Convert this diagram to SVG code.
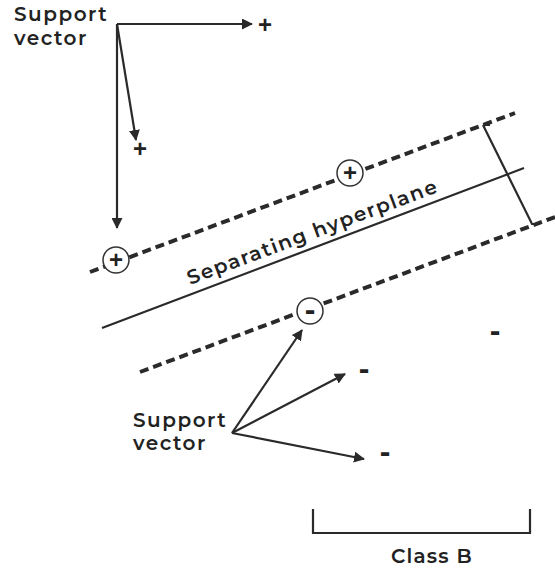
<svg xmlns="http://www.w3.org/2000/svg" width="555" height="568" viewBox="0 0 555 568">
<style>
.lbl{font-family:"Montserrat","Open Sans","Liberation Sans",sans-serif;font-size:20px;fill:#222;font-weight:600;letter-spacing:1.5px}
.sign{font-family:"Liberation Sans",sans-serif;font-size:24px;font-weight:bold;fill:#222;text-anchor:middle}
.minus{font-family:"Liberation Sans",sans-serif;font-size:32px;font-weight:bold;fill:#222;text-anchor:middle}
.ln{stroke:#2a2a2a;stroke-width:2.2;fill:none}
.dash{stroke:#2a2a2a;stroke-width:4;stroke-dasharray:9,5;fill:none}
.circ{stroke:#333;stroke-width:1.5;fill:#fff}
</style>
<defs>
<marker id="ah" markerWidth="11" markerHeight="11" refX="10" refY="5.5" orient="auto" markerUnits="userSpaceOnUse">
<path d="M0,0 L11,5.5 L0,11 Z" fill="#2a2a2a"/>
</marker>
</defs>
<rect width="555" height="568" fill="#fff"/>
<g id="margins">
<line class="dash" x1="90" y1="272" x2="515" y2="113"/>
<line class="ln" x1="102" y1="328" x2="524" y2="168"/>
<line class="dash" x1="140" y1="372" x2="555" y2="217"/>
<path class="ln" d="M483,125 L490,125 M483,125 L532,224 L540,224"/>
</g>
<g id="hyperplane-label">
<text class="lbl" font-weight="500" transform="translate(190,285) rotate(-20.5)">Separating hyperplane</text>
</g>
<g id="connectors">
<line class="ln" x1="117" y1="24" x2="252" y2="24" marker-end="url(#ah)"/>
<line class="ln" x1="117" y1="24" x2="136" y2="140" marker-end="url(#ah)"/>
<line class="ln" x1="117" y1="24" x2="117" y2="228" marker-end="url(#ah)"/>
<line class="ln" x1="232" y1="433" x2="302" y2="330" marker-end="url(#ah)"/>
<line class="ln" x1="232" y1="433" x2="345" y2="374" marker-end="url(#ah)"/>
<line class="ln" x1="232" y1="433" x2="364" y2="459" marker-end="url(#ah)"/>
</g>
<g id="support-vector-top">
<text class="lbl" x="14" y="21">Support</text>
<text class="lbl" x="14" y="45">vector</text>
</g>
<g id="support-vector-bottom">
<text class="lbl" x="133" y="427">Support</text>
<text class="lbl" x="133" y="450">vector</text>
</g>
<g id="plus-sv1">
<circle class="circ" cx="116" cy="260" r="13"/>
<text class="sign" x="116" y="268">+</text>
</g>
<g id="plus-sv2">
<circle class="circ" cx="350" cy="173" r="13"/>
<text class="sign" x="350" y="181">+</text>
</g>
<g id="minus-sv">
<circle class="circ" cx="310" cy="311" r="13"/>
<text class="minus" x="310" y="320">-</text>
</g>
<g id="plus-a"><text class="sign" x="265" y="33">+</text></g>
<g id="plus-b"><text class="sign" x="140" y="157">+</text></g>
<g id="minus-a"><text class="minus" x="364" y="379">-</text></g>
<g id="minus-b"><text class="minus" x="385" y="462">-</text></g>
<g id="minus-c"><text class="minus" x="495" y="341">-</text></g>
<g id="class-b">
<path class="ln" d="M313,509 L313,533 L530,533 L530,509"/>
<text class="lbl" x="432" y="563" text-anchor="middle" style="letter-spacing:1.2px">Class B</text>
</g>
</svg>
